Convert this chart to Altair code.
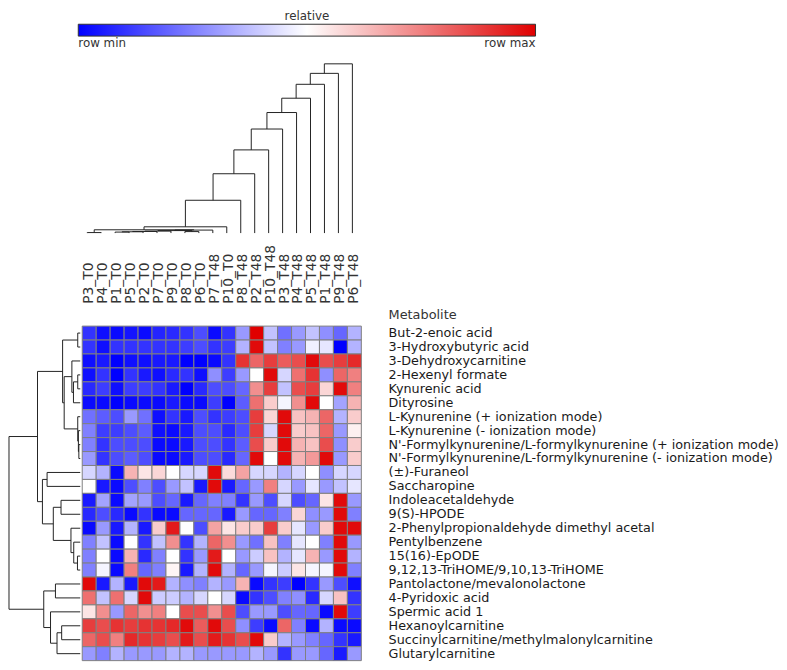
import altair as alt
import pandas as pd

metabolites = [
    "But-2-enoic acid", "3-Hydroxybutyric acid", "3-Dehydroxycarnitine",
    "2-Hexenyl formate", "Kynurenic acid", "Dityrosine",
    "L-Kynurenine (+ ionization mode)", "L-Kynurenine (- ionization mode)",
    "N'-Formylkynurenine/L-formylkynurenine (+ ionization mode)",
    "N'-Formylkynurenine/L-formylkynurenine (- ionization mode)",
    "(\u00b1)-Furaneol", "Saccharopine", "Indoleacetaldehyde", "9(S)-HPODE",
    "2-Phenylpropionaldehyde dimethyl acetal", "Pentylbenzene", "15(16)-EpODE",
    "9,12,13-TriHOME/9,10,13-TriHOME", "Pantolactone/mevalonolactone",
    "4-Pyridoxic acid", "Spermic acid 1", "Hexanoylcarnitine",
    "Succinylcarnitine/methylmalonylcarnitine", "Glutarylcarnitine",
]

samples = [
    "P3_T0", "P4_T0", "P1_T0", "P5_T0", "P2_T0", "P7_T0", "P9_T0", "P8_T0",
    "P6_T0", "P7_T48", "P10_T0", "P8_T48", "P2_T48", "P10_T48", "P3_T48",
    "P4_T48", "P5_T48", "P1_T48", "P9_T48", "P6_T48",
]

# relative value per row (0 = row min, 1 = row max), columns in sample order
r_but2enoic = [0.10, 0.03, 0.02, 0.04, 0.02, 0.07, 0.08, 0.10, 0.15, 0.02, 0.10, 0.30, 1.00, 0.38, 0.22, 0.30, 0.38, 0.28, 0.20, 0.35]
r_hydroxybut = [0.10, 0.03, 0.10, 0.10, 0.10, 0.10, 0.10, 0.12, 0.15, 0.10, 0.12, 0.35, 0.98, 0.38, 0.25, 0.30, 0.47, 0.45, 0.00, 0.35]
r_dehydroxy = [0.03, 0.05, 0.00, 0.03, 0.03, 0.05, 0.05, 0.00, 0.00, 0.02, 0.10, 0.90, 0.80, 0.88, 0.82, 0.85, 0.98, 0.85, 0.88, 0.92]
r_hexenyl = [0.03, 0.10, 0.00, 0.10, 0.05, 0.03, 0.08, 0.10, 0.03, 0.28, 0.12, 0.30, 0.50, 0.98, 0.42, 0.78, 0.90, 0.28, 0.80, 0.75]
r_kynurenic = [0.08, 0.12, 0.03, 0.12, 0.12, 0.10, 0.05, 0.00, 0.08, 0.15, 0.15, 0.20, 0.72, 0.88, 0.38, 0.85, 0.88, 0.58, 0.98, 0.75]
r_dityrosine = [0.02, 0.02, 0.00, 0.02, 0.02, 0.02, 0.05, 0.02, 0.02, 0.12, 0.00, 0.18, 0.78, 0.60, 0.48, 0.72, 0.98, 0.50, 0.32, 0.65]
r_lkyn_pos = [0.22, 0.18, 0.15, 0.30, 0.22, 0.03, 0.10, 0.05, 0.15, 0.10, 0.12, 0.15, 0.88, 0.58, 0.98, 0.62, 0.65, 0.80, 0.35, 0.60]
r_lkyn_neg = [0.25, 0.12, 0.12, 0.15, 0.18, 0.03, 0.02, 0.05, 0.15, 0.15, 0.08, 0.15, 0.88, 0.42, 0.98, 0.60, 0.62, 0.80, 0.30, 0.53]
r_nform_pos = [0.25, 0.10, 0.15, 0.15, 0.15, 0.02, 0.02, 0.05, 0.15, 0.15, 0.10, 0.18, 0.85, 0.60, 0.98, 0.65, 0.62, 0.85, 0.28, 0.60]
r_nform_neg = [0.30, 0.10, 0.15, 0.18, 0.15, 0.02, 0.02, 0.05, 0.15, 0.15, 0.08, 0.20, 0.98, 0.50, 0.98, 0.65, 0.70, 0.98, 0.30, 0.60]
r_furaneol = [0.42, 0.35, 0.02, 0.65, 0.55, 0.58, 0.50, 0.42, 0.42, 0.98, 0.57, 0.68, 0.42, 0.42, 0.35, 0.42, 0.50, 0.28, 0.42, 0.42]
r_saccharopine = [0.50, 0.05, 0.02, 0.15, 0.25, 0.15, 0.30, 0.38, 0.05, 0.98, 0.05, 0.20, 0.30, 0.75, 0.42, 0.30, 0.45, 0.30, 0.38, 0.45]
r_indoleacet = [0.05, 0.32, 0.02, 0.32, 0.30, 0.15, 0.20, 0.05, 0.20, 0.25, 0.25, 0.10, 0.30, 0.15, 0.42, 0.15, 0.20, 0.55, 0.98, 0.30]
r_hpode = [0.08, 0.15, 0.08, 0.02, 0.10, 0.02, 0.02, 0.20, 0.20, 0.20, 0.05, 0.30, 0.20, 0.20, 0.25, 0.58, 0.28, 0.30, 0.98, 0.25]
r_phenylprop = [0.02, 0.30, 0.05, 0.35, 0.05, 0.60, 0.95, 0.50, 0.15, 0.68, 0.55, 0.60, 0.60, 0.88, 0.60, 0.45, 0.30, 0.60, 0.98, 0.98]
r_pentylbenz = [0.25, 0.38, 0.02, 0.50, 0.10, 0.38, 0.72, 0.10, 0.35, 0.80, 0.72, 0.30, 0.22, 0.62, 0.25, 0.45, 0.50, 0.25, 0.98, 0.30]
r_epode = [0.25, 0.50, 0.02, 0.65, 0.08, 0.25, 0.50, 0.10, 0.30, 0.95, 0.50, 0.30, 0.40, 0.62, 0.35, 0.45, 0.65, 0.30, 0.98, 0.35]
r_trihome = [0.25, 0.48, 0.02, 0.75, 0.20, 0.25, 0.52, 0.05, 0.35, 0.98, 0.35, 0.20, 0.30, 0.48, 0.40, 0.55, 0.48, 0.48, 0.98, 0.25]
r_pantolact = [0.98, 0.05, 0.35, 0.05, 0.98, 0.95, 0.35, 0.28, 0.25, 0.35, 0.30, 0.65, 0.02, 0.10, 0.12, 0.00, 0.10, 0.30, 0.15, 0.03]
r_pyridoxic = [0.78, 0.38, 0.78, 0.42, 0.98, 0.40, 0.40, 0.35, 0.42, 0.50, 0.42, 0.02, 0.10, 0.15, 0.25, 0.28, 0.08, 0.42, 0.62, 0.10]
r_spermic = [0.55, 0.72, 0.30, 0.80, 0.72, 0.75, 0.50, 0.85, 0.85, 0.72, 0.85, 0.15, 0.30, 0.30, 0.15, 0.20, 0.20, 0.02, 0.98, 0.12]
r_hexanoyl = [0.88, 0.85, 0.90, 0.88, 0.90, 0.90, 0.92, 0.98, 0.82, 0.98, 0.85, 0.28, 0.12, 0.02, 0.80, 0.25, 0.02, 0.35, 0.02, 0.02]
r_succinyl = [0.80, 0.85, 0.75, 0.92, 0.90, 0.88, 0.85, 0.95, 0.85, 0.95, 0.90, 0.85, 0.98, 0.60, 0.35, 0.30, 0.25, 0.20, 0.10, 0.05]
r_glutaryl = [0.30, 0.25, 0.35, 0.30, 0.30, 0.30, 0.35, 0.35, 0.30, 0.30, 0.30, 0.30, 0.35, 0.30, 0.10, 0.30, 0.30, 0.20, 0.05, 0.30]

rows = [r_but2enoic, r_hydroxybut, r_dehydroxy, r_hexenyl, r_kynurenic, r_dityrosine,
        r_lkyn_pos, r_lkyn_neg, r_nform_pos, r_nform_neg, r_furaneol, r_saccharopine,
        r_indoleacet, r_hpode, r_phenylprop, r_pentylbenz, r_epode, r_trihome,
        r_pantolact, r_pyridoxic, r_spermic, r_hexanoyl, r_succinyl, r_glutaryl]

# dendrogram merges: (child a, child b, height); ids >= n refer to earlier merges
col_merges = [
    (0, 1, 0.5), (2, 3, 1.0), (21, 4, 1.3), (22, 5, 1.6), (23, 6, 2.0),
    (7, 8, 1.5), (24, 25, 2.5), (26, 9, 3.0), (20, 27, 3.3), (28, 10, 6.3),
    (29, 11, 33.0), (30, 12, 59.7), (31, 13, 83.7), (32, 14, 104.7),
    (33, 15, 121.3), (34, 16, 135.7), (35, 17, 149.7), (36, 18, 160.7),
    (37, 19, 170.3),
]
row_merges = [
    (0, 1, 2.7), (3, 4, 2.7), (25, 5, 7.3), (2, 26, 9.0), (8, 9, 1.5),
    (7, 28, 2.0), (6, 29, 2.7), (27, 30, 17.3), (24, 31, 19.0), (10, 11, 35.7),
    (12, 13, 20.7), (16, 17, 3.0), (15, 35, 7.0), (14, 36, 10.0), (34, 37, 29.0),
    (33, 38, 40.7), (32, 39, 46.0), (18, 19, 26.7), (21, 22, 20.0), (42, 23, 25.0),
    (20, 43, 32.0), (41, 44, 39.3), (40, 45, 76.7),
]


def dendro_segments(n, merges):
    pos = [i + 0.5 for i in range(n)]
    hgt = [0.0] * n
    segs = []
    for a, b, h in merges:
        for c in (a, b):
            segs.append({"p1": pos[c], "p2": pos[c], "h1": hgt[c], "h2": h})
        segs.append({"p1": pos[a], "p2": pos[b], "h1": h, "h2": h})
        pos.append((pos[a] + pos[b]) / 2)
        hgt.append(h)
    return pd.DataFrame(segs)


recs = []
for m, vals in zip(metabolites, rows):
    for s, v in zip(samples, vals):
        recs.append({"metabolite": m, "sample": s, "value": v})
heat_df = pd.DataFrame(recs)

col_df = dendro_segments(len(samples), col_merges)
row_df = dendro_segments(len(metabolites), row_merges)

FONT = "DejaVu Sans"
LINE = "#222222"

heat = alt.Chart(heat_df).mark_rect(stroke="#808080", strokeWidth=1).encode(
    x=alt.X("sample:N", sort=samples, scale=alt.Scale(paddingInner=0, paddingOuter=0),
            axis=alt.Axis(orient="top", labelAngle=270, labelAlign="left", labelBaseline="middle",
                          ticks=False, tickSize=0, domain=False, labelPadding=23,
                          labelFontSize=14, labelColor="#333333", labelFont=FONT, title=None)),
    y=alt.Y("metabolite:N", sort=metabolites, scale=alt.Scale(paddingInner=0, paddingOuter=0),
            axis=alt.Axis(orient="right", ticks=False, tickSize=0, domain=False, labelPadding=27,
                          labelFontSize=12.9, labelColor="#1a1a1a", labelFont=FONT, labelLimit=0,
                          title="Metabolite", titleAngle=0, titleAlign="left", titleBaseline="middle",
                          titleX=27, titleY=-12, titleFontSize=13, titleFontWeight="normal",
                          titleColor="#333333", titleFont=FONT)),
    color=alt.Color("value:Q",
                    scale=alt.Scale(domain=[0, 0.5, 1], range=["#0000ff", "#ffffff", "#e00000"],
                                    interpolate="rgb"),
                    legend=alt.Legend(orient="none", legendX=70, legendY=-53, direction="horizontal",
                                      title="relative", titleAnchor="middle", titleOrient="top",
                                      titleFontSize=12, titleFontWeight="normal", titleColor="#333333",
                                      titleFont=FONT, titlePadding=1,
                                      gradientLength=462, gradientThickness=12,
                                      gradientStrokeColor="#333333", gradientStrokeWidth=1,
                                      values=[0, 1],
                                      labelExpr="datum.value == 0 ? 'row min' : 'row max'",
                                      labelFontSize=12, labelFont=FONT, labelColor="#333333",
                                      labelOffset=2)),
).properties(width=282, height=338)

coldendro = alt.Chart(col_df).mark_rule(color=LINE, strokeWidth=1).encode(
    x=alt.X("p1:Q", scale=alt.Scale(domain=[0, 20], nice=False, zero=False), axis=None),
    x2="p2:Q",
    y=alt.Y("h1:Q", scale=alt.Scale(domain=[0, 170.3], nice=False), axis=None),
    y2="h2:Q",
).properties(width=282, height=171)

rowdendro = alt.Chart(row_df).mark_rule(color=LINE, strokeWidth=1).encode(
    y=alt.Y("p1:Q", scale=alt.Scale(domain=[0, 24], nice=False, zero=False, reverse=True), axis=None),
    y2="p2:Q",
    x=alt.X("h1:Q", scale=alt.Scale(domain=[0, 76.7], nice=False, reverse=True), axis=None),
    x2="h2:Q",
).properties(width=72, height=338)

spacer = alt.Chart(pd.DataFrame({"a": [0]})).mark_point(opacity=0).encode(
    x=alt.X("a:Q", axis=None), y=alt.Y("a:Q", axis=None)
).properties(width=72, height=171)

top = alt.hconcat(spacer, coldendro, spacing=0)
bottom = alt.hconcat(rowdendro, heat, spacing=0)

chart = alt.vconcat(top, bottom, spacing=10).properties(padding=0).configure(
    font=FONT, view=alt.ViewConfig(stroke=None)
).resolve_scale(x="independent", y="independent")

chart.save("out.html", embed_options={"renderer": "svg", "actions": False})
